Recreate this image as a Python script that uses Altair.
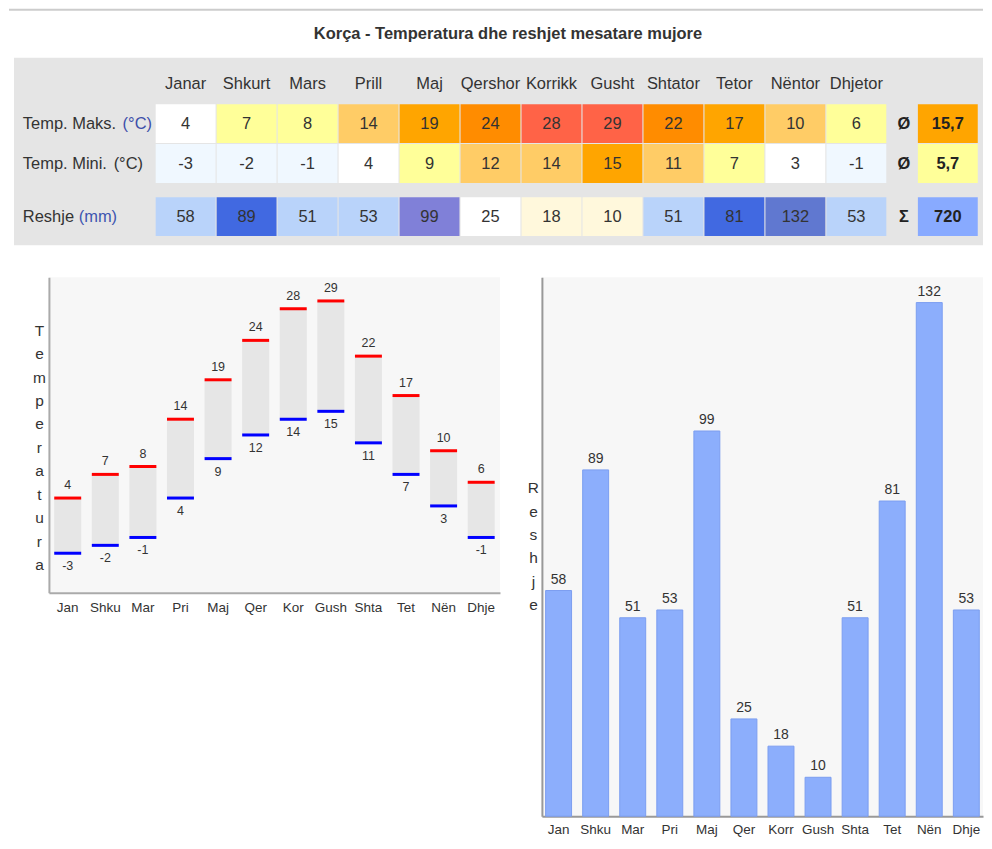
import altair as alt
import pandas as pd

FONT = "Liberation Sans, Arial, sans-serif"
TXT = "#333333"

# ---------------- data ----------------
title_text = "Korça - Temperatura dhe reshjet mesatare mujore"
months_full = ["Janar", "Shkurt", "Mars", "Prill", "Maj", "Qershor", "Korrikk",
               "Gusht", "Shtator", "Tetor", "Nëntor", "Dhjetor"]
months_temp = ["Jan", "Shku", "Mar", "Pri", "Maj", "Qer", "Kor", "Gush", "Shta", "Tet", "Nën", "Dhje"]
months_rain = ["Jan", "Shku", "Mar", "Pri", "Maj", "Qer", "Korr", "Gush", "Shta", "Tet", "Nën", "Dhje"]
t_max = [4, 7, 8, 14, 19, 24, 28, 29, 22, 17, 10, 6]
t_min = [-3, -2, -1, 4, 9, 12, 14, 15, 11, 7, 3, -1]
rain = [58, 89, 51, 53, 99, 25, 18, 10, 51, 81, 132, 53]

max_colors = ["#ffffff", "#ffff99", "#ffff99", "#ffcc66", "#ffa500", "#ff8c00",
              "#ff6347", "#ff6347", "#ff8c00", "#ffa500", "#ffcc66", "#ffff99"]
min_colors = ["#f0f8ff", "#f0f8ff", "#f0f8ff", "#ffffff", "#ffff99", "#ffcc66",
              "#ffcc66", "#ffa500", "#ffcc66", "#ffff99", "#ffffff", "#f0f8ff"]
rain_colors = ["#b9d3fa", "#4169e1", "#b9d3fa", "#b9d3fa", "#8080d8", "#ffffff",
               "#fff8dc", "#fff8dc", "#b9d3fa", "#4169e1", "#6078d0", "#b9d3fa"]

row_names = ["Temp. Maks.", "Temp. Mini.", "Reshje"]
row_units = ["(°C)", "(°C)", "(mm)"]
unit_colors = ["#3d4faa", TXT, "#3d55b0"]
summary_symbols = ["Ø", "Ø", "Σ"]
summary_values = ["15,7", "5,7", "720"]
summary_colors = ["#ffa500", "#ffff99", "#88aaff"]

# ---------------- table layout constants ----------------
ROW_Y = [1, 2, 3.33]
LABEL_COL = -2.67
SYMBOL_COL = 11.78
SUMMARY_COL = 12.5
HALF_W = 0.491
HALF_H = 0.4875
UNIT_DX = [100, 91, 56]
TFS = 16.5

cells = []
for r, (vals, cols) in enumerate(zip([t_max, t_min, rain], [max_colors, min_colors, rain_colors])):
    for i, (v, c) in enumerate(zip(vals, cols)):
        cells.append(dict(col=i, row=ROW_Y[r], label=str(v), fill=c, bold=0))
    cells.append(dict(col=SUMMARY_COL, row=ROW_Y[r], label=summary_values[r],
                      fill=summary_colors[r], bold=1))
cells = pd.DataFrame(cells)
cells["x1"] = cells["col"] - HALF_W
cells["x2"] = cells["col"] + HALF_W
cells["y1"] = cells["row"] - HALF_H
cells["y2"] = cells["row"] + HALF_H

header = pd.DataFrame({"col": list(range(12)), "row": 0, "name": months_full})
labels = pd.DataFrame({"col": LABEL_COL, "row": ROW_Y, "name": row_names,
                       "unit": row_units, "ucolor": unit_colors, "idx": [0, 1, 2]})
symbols = pd.DataFrame({"col": SYMBOL_COL, "row": ROW_Y, "sym": summary_symbols})

TABLE_W = 936
xs = alt.Scale(domain=[-2.242, 13.077], nice=False, zero=False)
ys = alt.Scale(domain=[-0.65, 4.05], nice=False, zero=False, reverse=True)


def TX(f):
    return alt.X(f, type="quantitative", scale=xs, axis=None)


def TY(f):
    return alt.Y(f, type="quantitative", scale=ys, axis=None)


one = pd.DataFrame({"k": [0]})
rule_top = alt.Chart(one).mark_rule(color="#cccccc", strokeWidth=2).encode(
    x=alt.value(-40), x2=alt.value(TABLE_W), y=alt.value(-48))
title = alt.Chart(one).mark_text(fontSize=16.5, fontWeight="bold", color=TXT).encode(
    x=alt.value(460), y=alt.value(-24), text=alt.value(title_text))
box = alt.Chart(one).mark_rect(color="#e5e5e5").encode(
    x=alt.value(-35), x2=alt.value(TABLE_W), y=alt.value(0), y2=alt.value(188))
cell_rects = alt.Chart(cells).mark_rect().encode(
    x=TX("x1"), x2="x2", y=TY("y1"), y2="y2", fill=alt.Fill("fill:N", scale=None))
cell_text = alt.Chart(cells).transform_filter("datum.bold == 0").mark_text(
    fontSize=TFS, color=TXT).encode(x=TX("col"), y=TY("row"), text="label:N")
cell_text_b = alt.Chart(cells).transform_filter("datum.bold == 1").mark_text(
    fontSize=TFS, fontWeight="bold", color="#222222").encode(x=TX("col"), y=TY("row"), text="label:N")
head_text = alt.Chart(header).mark_text(fontSize=TFS, color=TXT).encode(
    x=TX("col"), y=TY("row"), text="name:N")
lab_text = alt.Chart(labels).mark_text(fontSize=TFS, color=TXT, align="left").encode(
    x=TX("col"), y=TY("row"), text="name:N")
unit_layers = []
for k in range(3):
    unit_layers.append(
        alt.Chart(labels).transform_filter(f"datum.idx == {k}").mark_text(
            fontSize=TFS, align="left", dx=UNIT_DX[k]).encode(
            x=TX("col"), y=TY("row"), text="unit:N", color=alt.Color("ucolor:N", scale=None)))
sym_text = alt.Chart(symbols).mark_text(fontSize=TFS, fontWeight="bold", color="#222222").encode(
    x=TX("col"), y=TY("row"), text="sym:N")

table = alt.layer(rule_top, title, box, cell_rects, cell_text, cell_text_b, head_text,
                  lab_text, *unit_layers, sym_text).properties(width=TABLE_W, height=188)

# ---------------- temperature chart ----------------
temp_df = pd.DataFrame({"m": months_temp, "tmax": t_max, "tmin": t_min})
temp_df["tmax_s"] = temp_df["tmax"].astype(str)
temp_df["tmin_s"] = temp_df["tmin"].astype(str)
t_xscale = alt.Scale(paddingInner=0.28, paddingOuter=0.14)
tx_axis = alt.Axis(title=None, ticks=False, labelAngle=0, labelPadding=8, labelFontSize=13.5,
                   labelColor=TXT, domainColor="#aaaaaa", domainWidth=2, grid=False)
tx = alt.X("m:N", sort=months_temp, scale=t_xscale, axis=tx_axis)
tscale = alt.Scale(domain=[-8, 32], nice=False, zero=False)
ty_axis = alt.Axis(title=list("Temperatura"), ticks=False, labels=False, grid=False,
                   domainColor="#aaaaaa", domainWidth=2, titleAngle=0, titleX=-10, titleY=46,
                   titleAlign="center", titleBaseline="top", titleLineHeight=23.5,
                   titleFontSize=15.5, titleFontWeight="normal", titleColor=TXT)


def TYY(f):
    return alt.Y(f, type="quantitative", scale=tscale, axis=ty_axis)


tb = alt.Chart(temp_df)
t_bars = tb.mark_bar(color="#e6e6e6").encode(x=tx, y=TYY("tmin"), y2="tmax:Q")
t_red = tb.mark_tick(color="#ff0000", thickness=3, size=27, opacity=1).encode(x=tx, y=TYY("tmax"))
t_blue = tb.mark_tick(color="#0000ff", thickness=3, size=27, opacity=1).encode(x=tx, y=TYY("tmin"))
t_maxlab = tb.mark_text(fontSize=12.5, color=TXT, dy=-13).encode(x=tx, y=TYY("tmax"), text="tmax_s:N")
t_minlab = tb.mark_text(fontSize=12.5, color=TXT, dy=13).encode(x=tx, y=TYY("tmin"), text="tmin_s:N")
left = alt.layer(t_bars, t_red, t_blue, t_maxlab, t_minlab).properties(
    width=452, height=316, view=alt.ViewBackground(fill="#f7f7f7", strokeWidth=0))

# ---------------- precipitation chart ----------------
rain_df = pd.DataFrame({"m": months_rain, "rain": rain})
r_xscale = alt.Scale(paddingInner=0.3, paddingOuter=0.1)
rx_axis = alt.Axis(title=None, ticks=False, labelAngle=0, labelPadding=6, labelFontSize=13.5,
                   labelColor=TXT, domainColor="#999999", domainWidth=2, grid=False)
rx = alt.X("m:N", sort=months_rain, scale=r_xscale, axis=rx_axis)
rscale = alt.Scale(domain=[0, 138.5], nice=False, zero=False)
ry_axis = alt.Axis(title=list("Reshje"), ticks=False, labels=False, grid=False,
                   domainColor="#999999", domainWidth=2, titleAngle=0, titleX=-9, titleY=204,
                   titleAlign="center", titleBaseline="top", titleLineHeight=23.4,
                   titleFontSize=15.5, titleFontWeight="normal", titleColor=TXT)
ry = alt.Y("rain:Q", scale=rscale, axis=ry_axis)
rb = alt.Chart(rain_df)
r_bars = rb.mark_bar(color="#8caefc", stroke="#7b9ef0", strokeWidth=1).encode(x=rx, y=ry)
r_lab = rb.mark_text(fontSize=14, color=TXT, dy=-11).encode(x=rx, y=ry, text="rain:Q")
right = alt.layer(r_bars, r_lab).properties(
    width=442, height=540, view=alt.ViewBackground(fill="#f7f7f7", strokeWidth=0))

bottom = alt.hconcat(left, right, spacing=42, bounds="flush")
chart = alt.vconcat(table, bottom, spacing=32, bounds="flush").properties(
    padding=0
).configure(font=FONT).configure_view(strokeWidth=0)

chart.save("out.html", embed_options={"renderer": "svg", "actions": False})
